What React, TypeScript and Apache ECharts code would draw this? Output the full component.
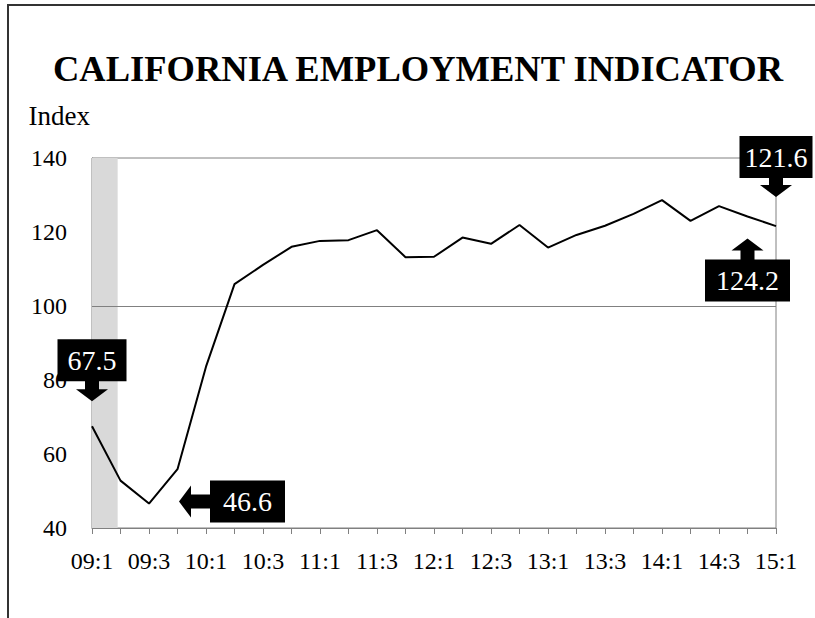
import React, { useEffect, useRef } from 'react';
import * as echarts from 'echarts';

// ---- data ----
const quarters = [
  '09:1', '09:2', '09:3', '09:4',
  '10:1', '10:2', '10:3', '10:4',
  '11:1', '11:2', '11:3', '11:4',
  '12:1', '12:2', '12:3', '12:4',
  '13:1', '13:2', '13:3', '13:4',
  '14:1', '14:2', '14:3', '14:4',
  '15:1',
];
const indexValues = [
  67.5, 52.8, 46.6, 55.9,
  83.6, 105.9, 111.1, 116.0,
  117.6, 117.8, 120.5, 113.2,
  113.3, 118.5, 116.8, 121.9,
  115.8, 119.2, 121.7, 124.9,
  128.6, 123.0, 127.0, 124.2,
  121.6,
];
const recessionSpan = [0, 0.9]; // in quarter-index units
const referenceLevel = 100;
const yMin = 40;
const yMax = 140;
const yStep = 20;
const calloutIndices = [0, 2, 24, 23];

// ---- callout layout (styles / positions) ----
type Dir = 'down' | 'up' | 'left';
const calloutLayout: { dir: Dir; gap: number; len: number; padX: number; dy: number }[] = [
  { dir: 'down', gap: 25, len: 20, padX: 10, dy: 0 },
  { dir: 'left', gap: 30, len: 31, padX: 13, dy: -2 },
  { dir: 'down', gap: 29, len: 19, padX: 5, dy: 0 },
  { dir: 'up', gap: 22, len: 21, padX: 11, dy: 0 },
];

const SERIF = 'Times New Roman, Liberation Serif, DejaVu Serif, serif';
const GRAY = '#808080';

const option: any = {
  animation: false,
  backgroundColor: '#ffffff',
  textStyle: { fontFamily: SERIF },
  title: {
    text: 'CALIFORNIA EMPLOYMENT INDICATOR',
    left: 413,
    textAlign: 'center',
    top: 45,
    textStyle: { fontFamily: SERIF, fontWeight: 'bold', fontSize: 36.5, color: '#000' },
  },
  grid: {
    left: 92,
    right: 39,
    top: 158,
    bottom: 90,
    show: true,
    borderColor: GRAY,
    borderWidth: 1,
    backgroundColor: 'transparent',
  },
  xAxis: {
    type: 'value',
    min: 0,
    max: quarters.length - 1,
    interval: 1,
    axisLine: { show: true, lineStyle: { color: GRAY, width: 1 } },
    axisTick: { show: true, length: 6, lineStyle: { color: GRAY } },
    splitLine: { show: false },
    axisLabel: {
      formatter: (v: number) => (v % 2 === 0 ? quarters[v] : ''),
      fontFamily: SERIF,
      fontSize: 24,
      color: '#000',
      margin: 21,
      showMinLabel: true,
      showMaxLabel: true,
    },
  },
  yAxis: {
    type: 'value',
    min: yMin,
    max: yMax,
    interval: yStep,
    name: 'Index',
    nameLocation: 'end',
    nameGap: 42,
    nameTextStyle: {
      fontFamily: SERIF,
      fontSize: 27,
      color: '#000',
      align: 'right',
      verticalAlign: 'middle',
      padding: [0, 2, 0, 0],
    },
    axisLine: { show: true, lineStyle: { color: GRAY, width: 1 } },
    axisTick: { show: false },
    splitLine: { show: false },
    axisLabel: { fontFamily: SERIF, fontSize: 24, color: '#000', margin: 25 },
  },
  series: [
    {
      type: 'line',
      data: indexValues.map((v, i) => [i, v]),
      symbol: 'none',
      lineStyle: { color: '#000', width: 2 },
      z: 5,
      markArea: {
        silent: true,
        itemStyle: { color: '#d9d9d9' },
        data: [[{ xAxis: recessionSpan[0] }, { xAxis: recessionSpan[1] }]],
      },
      markLine: {
        silent: true,
        symbol: 'none',
        label: { show: false },
        lineStyle: { color: GRAY, width: 1, type: 'solid' },
        data: [{ yAxis: referenceLevel }],
      },
    },
  ],
};

function arrowPoints(tx: number, ty: number, dx: number, dy: number, len: number) {
  const hw = 16, sw = 7, h = 12;
  const px = dy, py = dx; // perpendicular
  const pt = (a: number, p: number) => [tx - a * dx + p * px, ty - a * dy + p * py];
  return [pt(0, 0), pt(h, -hw), pt(h, -sw), pt(len, -sw), pt(len, sw), pt(h, sw), pt(h, hw)];
}

function buildCallouts(chart: any) {
  const els: any[] = [];
  calloutIndices.forEach((idx, k) => {
    const lay = calloutLayout[k];
    const p = chart.convertToPixel({ gridIndex: 0 }, [idx, indexValues[idx]]);
    const dir = lay.dir;
    const dx = dir === 'left' ? -1 : 0;
    const dy = dir === 'down' ? 1 : dir === 'up' ? -1 : 0;
    const tx = p[0] - dx * lay.gap;
    const ty = p[1] - dy * lay.gap + lay.dy;
    const bx = tx - dx * lay.len;
    const by = ty - dy * lay.len;
    els.push({
      type: 'polygon',
      z: 100,
      shape: { points: arrowPoints(tx, ty, dx, dy, lay.len + 1) },
      style: { fill: '#000' },
    });
    els.push({
      type: 'text',
      z: 101,
      x: bx,
      y: by,
      style: {
        text: indexValues[idx].toFixed(1),
        fill: '#fff',
        fontFamily: SERIF,
        fontSize: 28,
        align: dir === 'left' ? 'left' : 'center',
        verticalAlign: dir === 'down' ? 'bottom' : dir === 'up' ? 'top' : 'middle',
        backgroundColor: '#000',
        padding: [7, lay.padX, 7, lay.padX],
      },
    });
  });
  return els;
}

const frame = [
  { type: 'line', z: 200, shape: { x1: 7, y1: 5, x2: 815, y2: 5 }, style: { stroke: '#333', lineWidth: 2 } },
  { type: 'line', z: 200, shape: { x1: 8, y1: 4, x2: 8, y2: 618 }, style: { stroke: '#333', lineWidth: 2 } },
];

export default function App() {
  const ref = useRef<HTMLDivElement>(null);
  useEffect(() => {
    const chart = echarts.init(ref.current!, null, { renderer: 'svg' });
    chart.setOption(option);
    chart.setOption({ graphic: [...frame, ...buildCallouts(chart)] });
    return () => chart.dispose();
  }, []);
  return (
    <div
      ref={ref}
      style={{ position: 'fixed', left: 0, top: 0, width: 815, height: 618, background: '#fff' }}
    />
  );
}
